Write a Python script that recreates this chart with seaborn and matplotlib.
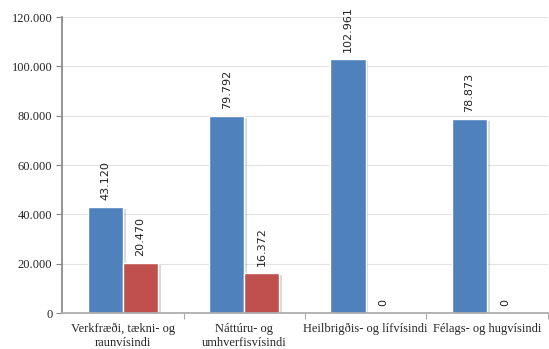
import seaborn as sns
import matplotlib.pyplot as plt
import matplotlib.patheffects as pe
import pandas as pd
from matplotlib.ticker import FuncFormatter, FixedLocator

categories = ['Verkfræði, tækni- og\nraunvísindi', 'Náttúru- og\numhverfisvísindi',
              'Heilbrigðis- og lífvísindi', 'Félags- og hugvísindi']
series_a = [43120, 79792, 102961, 78873]
series_b = [20470, 16372, 0, 0]

df = pd.DataFrame({
    'cat': categories * 2,
    'value': series_a + series_b,
    'series': ['A'] * 4 + ['B'] * 4,
})


def dot_fmt(v, pos=None):
    return f'{int(round(v)):,}'.replace(',', '.')


sns.set_theme(style='white')
plt.rcParams['font.family'] = ['Liberation Serif', 'DejaVu Serif']

fig = plt.figure(figsize=(5.49, 3.49), dpi=100)
ax = fig.add_axes([0.113, 0.103, 0.885, 0.848])
ax = sns.barplot(data=df, x='cat', y='value', hue='series', palette=['#4F81BD', '#C0504D'],
                 width=0.58, saturation=1, legend=False, ax=ax)

# soft drop shadow like the original
for bar in ax.patches:
    bar.set_path_effects([pe.SimplePatchShadow(offset=(2, -1.5), alpha=0.18), pe.Normal()])

for cont in ax.containers:
    for bar in cont:
        h = bar.get_height()
        ax.text(bar.get_x() + bar.get_width() / 2, h + 2800, dot_fmt(h), rotation=90,
                ha='center', va='bottom', fontsize=8, family='DejaVu Sans', color='#222222')

ax.set_ylim(0, 120000)
ax.set_xlim(-0.5, 3.5)
ax.set_yticks(range(0, 120001, 20000))
ax.yaxis.set_major_formatter(FuncFormatter(dot_fmt))
ax.yaxis.grid(True, color='#e3e3e3', linewidth=0.8)
ax.set_axisbelow(True)
ax.set(xlabel='', ylabel='')
ax.tick_params(axis='y', labelsize=9, length=4, left=True, color='#888888', width=0.8, pad=3)
ax.tick_params(axis='x', which='major', labelsize=9, length=0, pad=7)
for lbl in ax.get_xticklabels():
    lbl.set_linespacing(1.25)
ax.xaxis.set_minor_locator(FixedLocator([0.5, 1.5, 2.5, 3.5]))
ax.tick_params(axis='x', which='minor', length=4, bottom=True, color='#aaaaaa', width=0.8)
for s in ['top', 'right']:
    ax.spines[s].set_visible(False)
ax.spines['left'].set_color('#888888')
ax.spines['bottom'].set_color('#aaaaaa')

plt.savefig('out.png', dpi=100)
